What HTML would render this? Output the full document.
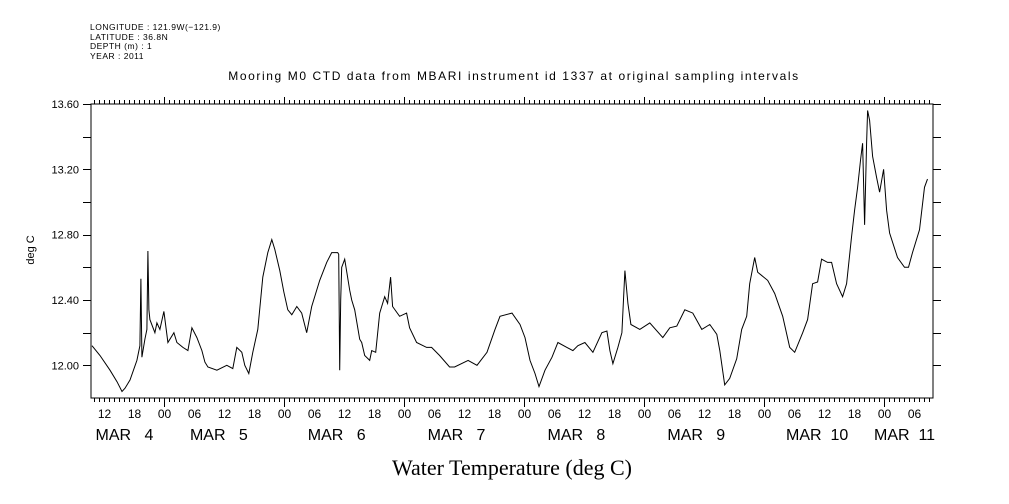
<!DOCTYPE html>
<html><head><meta charset="utf-8"><style>
body{margin:0;background:#fff;}
svg{display:block;font-family:"Liberation Sans",sans-serif;}
</style></head><body>
<svg id="chart" width="1009" height="504" viewBox="0 0 1009 504">
<g font-size="8.5" fill="#000" letter-spacing="0.5">
<text x="90" y="30">LONGITUDE : 121.9W(−121.9)</text>
<text x="90" y="40">LATITUDE : 36.8N</text>
<text x="90" y="49">DEPTH (m) : 1</text>
<text x="90" y="59">YEAR : 2011</text>
</g>
<text x="514" y="80" font-size="12" letter-spacing="1.6" text-anchor="middle">Mooring M0 CTD data from MBARI instrument id 1337 at original sampling intervals</text>
<text transform="translate(34,250) rotate(-90)" font-size="11" text-anchor="middle">deg C</text>
<text x="512" y="475" font-size="22" text-anchor="middle" font-family="Liberation Serif, serif">Water Temperature (deg C)</text>
<g id="axes"></g>
<path id="series" fill="none" stroke="#000" stroke-width="1"/>
</svg>
<script>
const hours=[9.5,11.1,13.1,14.5,15.5,16.1,17.1,18.5,18.9,19.1,19.3,19.5,20.1,20.5,20.7,20.9,21.1,22.1,22.5,23.1,23.9,24.7,25.9,26.5,27.7,28.7,29.5,30.5,31.5,32.1,32.7,34.5,36.5,37.7,38.5,39.5,40.1,40.9,41.7,42.7,43.7,44.7,45.5,46.1,47.1,47.9,48.7,49.5,50.5,51.5,52.5,53.5,55.1,56.5,57.5,58.7,58.9,59.1,59.3,59.5,60.1,61.1,61.5,62.1,63.1,63.5,64.1,65.1,65.5,66.3,67.1,68.1,68.7,69.3,69.7,71.1,72.5,73.1,74.5,76.5,77.5,79.1,81.1,82.1,84.8,86.6,88.6,90.2,91.2,93.6,95.2,96.2,97.2,98.2,99.0,100.2,101.6,102.8,104.6,105.8,106.8,108.2,109.8,111.6,112.6,113.2,113.8,114.8,115.6,116.2,116.8,117.4,118.6,119.2,121.2,123.8,125.2,126.6,128.2,129.8,131.6,133.2,134.6,135.2,136.2,137.2,138.6,139.6,140.6,141.2,142.2,142.8,144.8,146.2,147.8,149.2,150.2,151.8,152.8,153.8,154.8,155.6,156.8,157.6,158.6,159.8,160.6,161.6,162.2,162.8,163.4,163.8,164.2,164.6,164.8,165.2,165.8,166.6,167.2,168.0,168.6,169.2,170.8,172.2,173.0,173.8,175.2,176.2,176.8];
const temps=[12.12,12.06,11.97,11.90,11.84,11.86,11.91,12.03,12.09,12.12,12.53,12.05,12.16,12.22,12.70,12.34,12.28,12.20,12.26,12.22,12.33,12.14,12.20,12.14,12.11,12.09,12.23,12.17,12.09,12.02,11.99,11.97,12.00,11.98,12.11,12.08,12.00,11.95,12.08,12.22,12.54,12.69,12.77,12.71,12.58,12.45,12.34,12.31,12.36,12.32,12.20,12.36,12.52,12.63,12.69,12.69,12.68,11.97,12.40,12.60,12.65,12.46,12.40,12.34,12.16,12.14,12.06,12.03,12.09,12.08,12.32,12.42,12.38,12.54,12.36,12.30,12.32,12.23,12.14,12.11,12.11,12.06,11.99,11.99,12.03,12.00,12.08,12.22,12.30,12.32,12.25,12.17,12.03,11.95,11.87,11.97,12.05,12.14,12.11,12.09,12.12,12.14,12.08,12.20,12.21,12.09,12.01,12.11,12.20,12.58,12.38,12.25,12.23,12.22,12.26,12.17,12.23,12.24,12.34,12.32,12.22,12.25,12.19,12.09,11.88,11.92,12.04,12.22,12.30,12.50,12.66,12.57,12.52,12.44,12.30,12.11,12.08,12.20,12.28,12.50,12.51,12.65,12.63,12.63,12.50,12.42,12.50,12.79,12.95,13.09,13.26,13.36,12.86,13.36,13.56,13.50,13.28,13.15,13.06,13.20,12.95,12.81,12.66,12.60,12.60,12.69,12.83,13.09,13.14];
const yTicks=[12.00,12.40,12.80,13.20,13.60];
const dayLabels=["MAR   4","MAR   5","MAR   6","MAR   7","MAR   8","MAR   9","MAR  10","MAR  11"];
const dayLabelHour=[16,34.9,58.5,82.5,106.5,130.5,154.7,172.2];

const L=91,R=933,T=104,B=398,H0=9.3,H1=177.9,V0=11.8,V1=13.6;
const xs=h=>L+(h-H0)/(H1-H0)*(R-L);
const ys=v=>B-(v-V0)/(V1-V0)*(B-T);
const NS="http://www.w3.org/2000/svg";
const ax=document.getElementById('axes');
function mk(t,a){const e=document.createElementNS(NS,t);for(const k in a)e.setAttribute(k,a[k]);ax.appendChild(e);return e;}
const frame=mk('rect',{x:L,y:T,width:R-L,height:B-T,fill:'none',stroke:'#000','stroke-width':1});


for(let h=Math.ceil(H0);h<=H1;h++){
  const x=Math.round(xs(h))+0.5, hr=h%24;
  const lb=hr===0?9:4, lt=hr===0?7:4;
  const tb=mk('line',{x1:x,y1:B,x2:x,y2:B+lb,stroke:'#000'});
  
  
  const tt=mk('line',{x1:x,y1:T,x2:x,y2:T-lt,stroke:'#000'});
  
  
  if(hr%6===0){
    const t=mk('text',{x:x,y:418,'font-size':12,'text-anchor':'middle'});
    t.textContent=String(hr).padStart(2,'0');
    
    
  }
}
dayLabels.forEach((s,i)=>{
  const t=mk('text',{x:xs(dayLabelHour[i]),y:440,'font-size':16,'text-anchor':'middle'});
  t.style.whiteSpace='pre';
  t.setAttribute('xml:space','preserve');
  t.textContent=s;
  
  
});
for(let v=12.0;v<=13.61;v+=0.2){
  const y=Math.round(ys(v))+0.5;
  const a=mk('line',{x1:L-8,y1:y,x2:L,y2:y,stroke:'#000'});
  
  
  const b=mk('line',{x1:R,y1:y,x2:R+8,y2:y,stroke:'#000'});
  
  
}
yTicks.forEach(v=>{
  const t=mk('text',{x:L-12,y:ys(v)+4,'font-size':11,'text-anchor':'end'});
  t.textContent=v.toFixed(2);
  
  
});
document.getElementById('series').setAttribute('d',hours.map((h,i)=>(i?'L':'M')+xs(h).toFixed(1)+' '+ys(temps[i]).toFixed(1)).join(''));
</script>
</body></html>
